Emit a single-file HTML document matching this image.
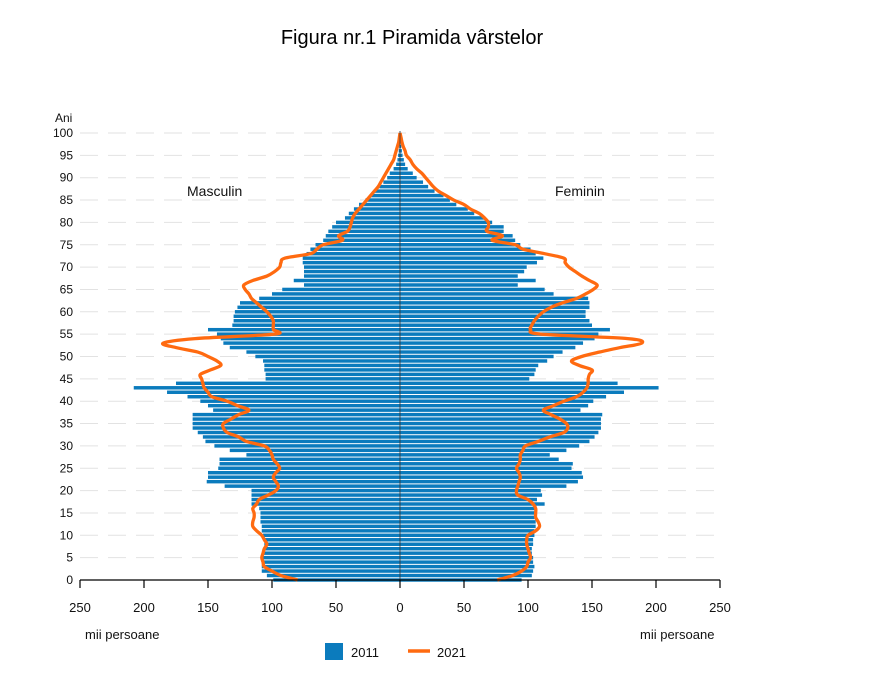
<!DOCTYPE html>
<html><head><meta charset="utf-8"><style>
body{margin:0;background:#fff;font-family:"Liberation Sans",sans-serif}
svg{display:block}
</style></head><body>
<svg id="chart" width="884" height="680" viewBox="0 0 884 680" xmlns="http://www.w3.org/2000/svg">
<text x="412" y="44" text-anchor="middle" font-size="20" font-family="Liberation Sans, sans-serif" fill="#000">Figura nr.1 Piramida vârstelor</text>
<g id="grid"></g>
<g id="bars"></g>
<g id="lines"></g>
<g id="axes"></g>
<text x="187" y="196" font-size="14" fill="#111">Masculin</text>
<text x="555" y="196" font-size="14" fill="#111">Feminin</text>
<text x="55" y="122" font-size="12" fill="#111">Ani</text>
<text x="85" y="639" font-size="13" fill="#111">mii persoane</text>
<text x="640" y="639" font-size="13" fill="#111">mii persoane</text>
<g>
<rect x="325" y="643" width="18" height="17" fill="#0b7bbd"/>
<text x="351" y="657" font-size="13" fill="#111">2011</text>
<line x1="408" y1="651" x2="430" y2="651" stroke="#ff6a10" stroke-width="3.5"/>
<text x="437" y="657" font-size="13" fill="#111">2021</text>
</g>
</svg>
<script>
const ages=[...Array(101).keys()];
const male2011=[99,104,108,108,108,107,107,106,106,106,107,108,108,109,109,109,110,116,116,116,116,137,151,150,150,142,141,141,120,133,145,152,154,158,162,162,162,162,146,150,156,166,182,208,175,105,105,106,106,107,113,120,133,138,140,143,150,131,130,130,129,127,125,110,100,92,75,83,75,75,75,76,76,73,70,66,60,58,56,53,50,43,40,36,32,27,23,20,16,13,10,8,5,3,2,1.5,1,0.6,0.4,0.2,0.1];
const female2011=[95,103,104,105,104,104,103,103,104,104,105,105,106,106,105,106,106,113,107,111,110,130,139,143,142,134,135,124,117,130,140,148,152,155,157,157,157,158,141,147,151,161,175,202,170,101,105,106,108,115,120,127,137,143,152,155,164,150,148,145,145,148,148,147,120,113,92,106,92,97,99,107,112,106,102,94,90,88,81,81,72,66,58,53,44,39,34,27,22,18,13,10,6,4,3,2,1.5,1,0.6,0.4,0.2];
const male2021=[80,93,100,106,107,108,107,106,104,106,108,112,115,115,114,114,115,112,110,103,97,95,97,99,97,94,96,99,100,102,106,120,126,135,138,138,132,126,118,127,135,147,150,153,154,155,156,148,140,143,150,158,175,185,160,98,99,99,99,101,104,108,112,116,118,121,122,115,104,98,94,93,90,70,65,60,45,48,41,39,38,37,35,32,29,26,23,20,17,15,13,11,9,7,5,4,3,2,1,0.5,0];
const female2021=[76,88,95,99,100,102,101,100,99,99,100,106,109,108,106,106,106,104,100,92,91,92,93,94,93,91,93,94,94,96,98,108,117,128,131,130,125,118,112,120,128,138,143,146,147,147,148,150,140,134,142,156,172,189,178,110,102,103,105,108,112,118,127,138,145,151,154,148,142,137,132,129,128,113,96,90,72,80,68,69,69,66,62,55,50,42,36,30,26,23,20,17,13,10,8,5,4,2.5,1.5,0.8,0];
const xTicks=[250,200,150,100,50,0,50,100,150,200,250];
const yTicks=[0,5,10,15,20,25,30,35,40,45,50,55,60,65,70,75,80,85,90,95,100];

const NS="http://www.w3.org/2000/svg";
const X0=400,PX=1.28,Y0=580,PY=4.47;
const xL=v=>X0-v*PX, xR=v=>X0+v*PX, y=a=>Y0-a*PY;
function mk(tag,attrs,parent){const e=document.createElementNS(NS,tag);for(const k in attrs)e.setAttribute(k,attrs[k]);parent.appendChild(e);return e;}
const grid=document.getElementById('grid'),bars=document.getElementById('bars'),lines=document.getElementById('lines'),axes=document.getElementById('axes');

yTicks.forEach(t=>{
  const g=mk('line',{x1:80,x2:720,y1:y(t),y2:y(t),stroke:'#e2e2e2','stroke-width':1,'stroke-dasharray':'18,10'},grid);
  
  
  const l=mk('text',{x:73,y:y(t)+4,'text-anchor':'end','font-size':12,fill:'#111'},axes);
  l.textContent=t;
  
  
});
const bh=PY-1;
ages.forEach(a=>{
  const m=mk('rect',{x:xL(male2011[a]),y:y(a)-bh/2,width:male2011[a]*PX,height:bh,fill:'#0b7bbd'},bars);
  
  
  const f=mk('rect',{x:X0,y:y(a)-bh/2,width:female2011[a]*PX,height:bh,fill:'#0b7bbd'},bars);
  
  
});
const c=mk('line',{x1:X0,x2:X0,y1:y(100)-2,y2:Y0,stroke:'#333','stroke-width':0.8},axes);


function smooth(pts){let d='M'+pts[0][0]+','+pts[0][1];for(let i=0;i<pts.length-1;i++){const p0=pts[i-1]||pts[i],p1=pts[i],p2=pts[i+1],p3=pts[i+2]||p2;d+=' C'+(p1[0]+(p2[0]-p0[0])/6)+','+(p1[1]+(p2[1]-p0[1])/6)+' '+(p2[0]-(p3[0]-p1[0])/6)+','+(p2[1]-(p3[1]-p1[1])/6)+' '+p2[0]+','+p2[1];}return d;}
const pm=mk('path',{d:smooth(ages.map(a=>[xL(male2021[a]),y(a)])),fill:'none',stroke:'#ff6a10','stroke-width':3.3,'stroke-linejoin':'round'},lines);


const pf=mk('path',{d:smooth(ages.map(a=>[xR(female2021[a]),y(a)])),fill:'none',stroke:'#ff6a10','stroke-width':3.3,'stroke-linejoin':'round'},lines);


const ax=mk('line',{x1:80,x2:720,y1:Y0,y2:Y0,stroke:'#000','stroke-width':1.2},axes);


xTicks.forEach((t,i)=>{
  const px=i<5?xL(t):xR(t);
  const tk=mk('line',{x1:px,x2:px,y1:Y0,y2:Y0+8,stroke:'#000','stroke-width':1.2},axes);
  
  
  const tl=mk('text',{x:px,y:612,'text-anchor':'middle','font-size':13,fill:'#111'},axes);
  tl.textContent=t;
  
  
});
</script>
</body></html>
